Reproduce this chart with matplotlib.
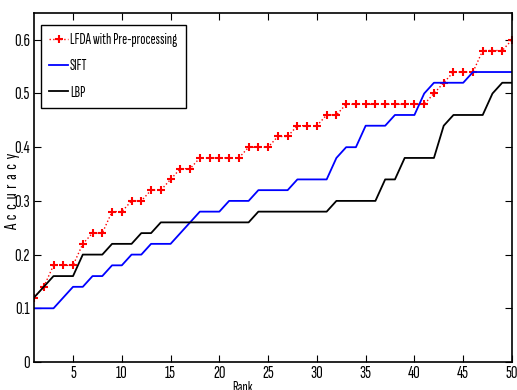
import numpy as np
import matplotlib
matplotlib.use('Agg')
import matplotlib.pyplot as plt

plt.rcParams['font.family'] = ['Sofia Sans Extra Condensed', 'Fira Sans Extra Condensed', 'DejaVu Sans']

rank = np.arange(1, 51)

# LFDA with pre-processing
lfda = [0.12, 0.14, 0.18, 0.18, 0.18, 0.22, 0.24, 0.24, 0.28, 0.28,
        0.30, 0.30, 0.32, 0.32, 0.34, 0.36, 0.36, 0.38, 0.38, 0.38,
        0.38, 0.38, 0.40, 0.40, 0.40, 0.42, 0.42, 0.44, 0.44, 0.44,
        0.46, 0.46, 0.48, 0.48, 0.48, 0.48, 0.48, 0.48, 0.48, 0.48,
        0.48, 0.50, 0.52, 0.54, 0.54, 0.54, 0.58, 0.58, 0.58, 0.60]

sift = [0.10, 0.10, 0.10, 0.12, 0.14, 0.14, 0.16, 0.16, 0.18, 0.18,
        0.20, 0.20, 0.22, 0.22, 0.22, 0.24, 0.26, 0.28, 0.28, 0.28,
        0.30, 0.30, 0.30, 0.32, 0.32, 0.32, 0.32, 0.34, 0.34, 0.34,
        0.34, 0.38, 0.40, 0.40, 0.44, 0.44, 0.44, 0.46, 0.46, 0.46,
        0.50, 0.52, 0.52, 0.52, 0.52, 0.54, 0.54, 0.54, 0.54, 0.54]

lbp = [0.12, 0.14, 0.16, 0.16, 0.16, 0.20, 0.20, 0.20, 0.22, 0.22,
       0.22, 0.24, 0.24, 0.26, 0.26, 0.26, 0.26, 0.26, 0.26, 0.26,
       0.26, 0.26, 0.26, 0.28, 0.28, 0.28, 0.28, 0.28, 0.28, 0.28,
       0.28, 0.30, 0.30, 0.30, 0.30, 0.30, 0.34, 0.34, 0.38, 0.38,
       0.38, 0.38, 0.44, 0.46, 0.46, 0.46, 0.46, 0.50, 0.52, 0.52]

xticks = [5, 10, 15, 20, 25, 30, 35, 40, 45, 50]
yticks = [0, 0.1, 0.2, 0.3, 0.4, 0.5, 0.6]

fig = plt.figure(figsize=(5.17, 3.9), dpi=100)
ax = fig.add_axes([0.0658, 0.0718, 0.9245, 0.895])

ax.plot(rank, lfda, ':', color='red', marker='+', markersize=5.5,
        markeredgewidth=1.5, linewidth=1.0, label='LFDA with Pre-processing')
ax.plot(rank, sift, '-', color='blue', linewidth=1.3, label='SIFT')
ax.plot(rank, lbp, '-', color='black', linewidth=1.3, label='LBP')

ax.set_xlim(1, 50)
ax.set_ylim(0, 0.65)
ax.set_xticks(xticks)
ax.set_yticks(yticks)
ax.set_yticklabels(['0', '0.1', '0.2', '0.3', '0.4', '0.5', '0.6'])
ax.tick_params(direction='in', top=True, right=True, length=5, labelsize=13, pad=3)
for s in ax.spines.values():
    s.set_linewidth(1.2)

leg = ax.legend(loc='upper left', bbox_to_anchor=(0.0146, 0.966), borderaxespad=0,
                fancybox=False, edgecolor='black', framealpha=1, fontsize=11,
                handlelength=1.25, handletextpad=0.1, labelspacing=0.8,
                borderpad=0.55)
leg.get_frame().set_linewidth(1.0)

# y label sits behind the tick labels, as in the original
fig.text(0.024, 0.51, 'A  c  c  u  r  a  c  y', rotation=90, ha='center', va='center', fontsize=13)
fig.text(243 / 517, 0.022, 'Rank', ha='center', va='top', fontsize=11)

fig.savefig('out.png', dpi=100)
